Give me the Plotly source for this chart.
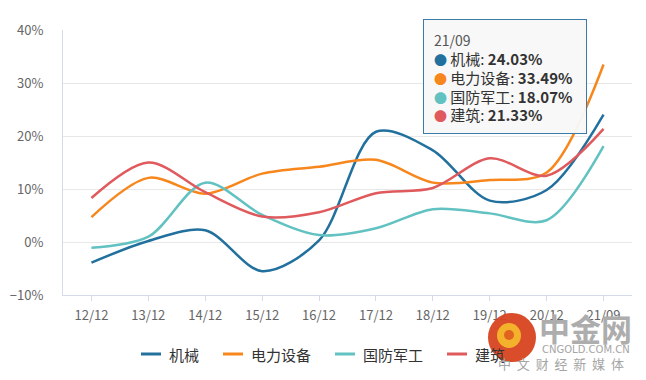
import plotly.graph_objects as go

categories = ["12/12", "13/12", "14/12", "15/12", "16/12", "17/12", "18/12", "19/12", "20/12", "21/09"]
jixie = [-3.9, 0.2, 2.2, -5.5, 0.3, 20.8, 17.3, 7.8, 9.8, 24.03]
dianli = [4.7, 12.1, 9.1, 12.9, 14.2, 15.5, 11.2, 11.7, 13.1, 33.49]
guofang = [-1.1, 1.0, 11.2, 5.1, 1.3, 2.6, 6.2, 5.4, 4.1, 18.07]
jianzhu = [8.3, 15.0, 9.4, 4.8, 5.6, 9.2, 10.2, 15.8, 12.5, 21.33]
y_ticks = [-10, 0, 10, 20, 30, 40]

names = ["机械", "电力设备", "国防军工", "建筑"]
colors = ["#22709e", "#f7871c", "#62c1c1", "#e05a5d"]
series = [jixie, dianli, guofang, jianzhu]

FONT = "Noto Sans CJK SC"
W, H = 646, 380
OFF = 8  # default page body margin
# plot area in window pixels
L, R, T, B = 63, 632, 30, 295


def px(x):
    return (x - L) / (R - L)


def py(y):
    return (B - y) / (B - T)


fig = go.Figure()
for n, c, s in zip(names, colors, series):
    fig.add_trace(go.Scatter(
        x=categories, y=s, name=n, mode="lines",
        line=dict(color=c, width=2.5, shape="spline", smoothing=0.9),
        hoverinfo="skip", showlegend=False,
    ))

# tooltip-like box for last category
idx = len(categories) - 1
lines = [f"<span style='color:#555;font-size:14px'>{categories[idx]}</span>"]
for n, c, s in zip(names, colors, series):
    lines.append(
        f"<span style='color:{c};font-size:13px'>●</span> "
        f"<span style='color:#333;font-size:15px'>{n}: <b>{s[idx]:.2f}%</b></span>"
    )
PAD = 10
fig.add_annotation(
    xref="paper", yref="paper", x=px(423), y=py(19), xanchor="left", yanchor="top",
    text="<br>".join(lines), align="left", valign="top", showarrow=False,
    width=164 - 2 * PAD - 2, height=115 - 2 * PAD - 2,
    font=dict(family=FONT, size=14.5, color="#333"),
    bgcolor="rgba(248,248,248,0.96)", bordercolor="#3a7ca5", borderwidth=1, borderpad=PAD,
)

# manual legend
lx = 141
for n, c in zip(names, colors):
    fig.add_shape(type="line", xref="paper", yref="paper",
                  x0=px(lx), x1=px(lx + 20), y0=py(354), y1=py(354),
                  line=dict(color=c, width=3))
    fig.add_annotation(xref="paper", yref="paper", x=px(lx + 26), y=py(354),
                       text=n, showarrow=False, xanchor="left", yanchor="middle",
                       font=dict(family=FONT, size=15, color="#333"))
    lx += 20 + 6 + 15 * len(n) + 26

# watermark
fig.add_shape(type="circle", xref="paper", yref="paper",
              x0=px(488), x1=px(536), y0=py(362), y1=py(313),
              fillcolor="#d8431f", line=dict(width=0), layer="above", opacity=0.95)
fig.add_shape(type="circle", xref="paper", yref="paper",
              x0=px(497), x1=px(521), y0=py(348), y1=py(323),
              fillcolor="#f4b12c", line=dict(width=0), layer="above")
fig.add_shape(type="circle", xref="paper", yref="paper",
              x0=px(504), x1=px(514), y0=py(340), y1=py(330),
              fillcolor="#e0641f", line=dict(width=0), layer="above")
fig.add_annotation(xref="paper", yref="paper", x=px(585), y=py(327),
                   text="<b>中金网</b>", showarrow=False, xanchor="center", yanchor="middle",
                   font=dict(family=FONT, size=31, color="#adadad"))
fig.add_annotation(xref="paper", yref="paper", x=px(586), y=py(349),
                   text="CNGOLD.COM.CN", showarrow=False, xanchor="center", yanchor="middle",
                   font=dict(family="DejaVu Sans", size=10, color="#a5a5a5"))
fig.add_annotation(xref="paper", yref="paper", x=px(561), y=py(363),
                   text="中  文  财  经  新  媒  体", showarrow=False, xanchor="center", yanchor="middle",
                   font=dict(family=FONT, size=13, color="#a5a5a5"))

fig.update_layout(
    width=W, height=H,
    margin=dict(l=L - OFF, r=W - (R - OFF), t=T - OFF, b=H - (B - OFF), autoexpand=False),
    paper_bgcolor="white", plot_bgcolor="white",
    font=dict(family=FONT, size=12, color="#666"),
    showlegend=False,
    hovermode=False,
)
fig.update_xaxes(
    type="category", range=[-0.5, len(categories) - 0.5],
    showgrid=False, showline=True, linecolor="#d5dbea", linewidth=1,
    ticks="outside", ticklen=5, tickcolor="#d5dbea",
    tickfont=dict(size=13, color="#666"), ticklabelstandoff=3,
    zeroline=False, fixedrange=True, automargin=False,
)
fig.update_yaxes(
    range=[-10, 40], tickvals=y_ticks,
    ticktext=[(f"\u2212{abs(v)}%" if v < 0 else f"{v}%") for v in y_ticks],
    showgrid=True, gridcolor="#e8e8e8", gridwidth=1,
    showline=True, linecolor="#d5dbea", linewidth=1,
    zeroline=False, ticks="", tickfont=dict(size=13, color="#666"),
    ticklabelstandoff=16, fixedrange=True, automargin=False,
)

fig.write_html("out.html")
